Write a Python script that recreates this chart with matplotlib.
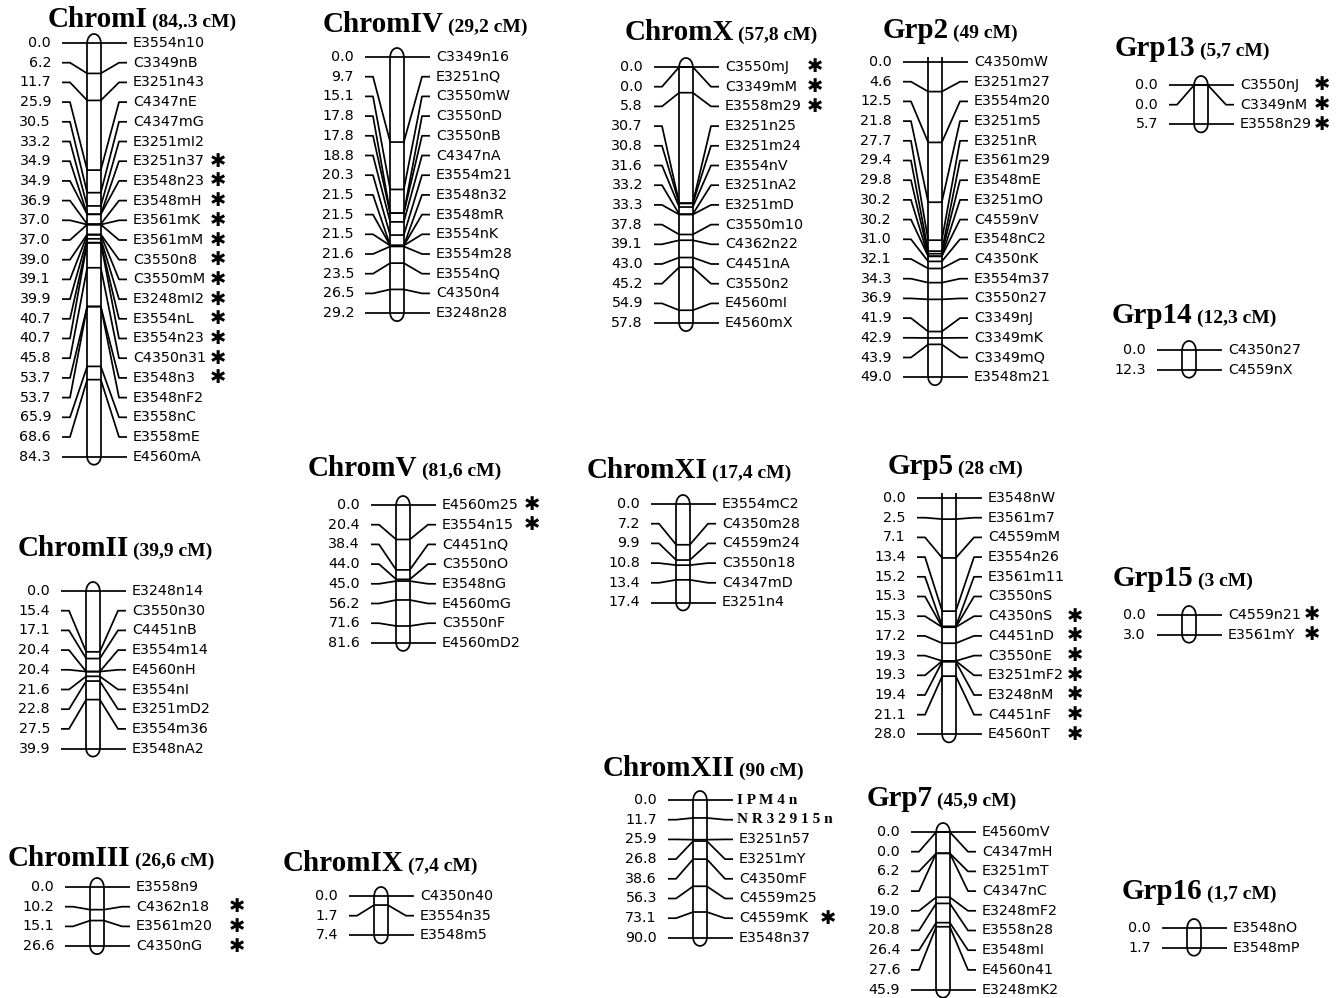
import numpy as np
import matplotlib.pyplot as plt

# ---------------- linkage group data (cM, marker) ----------------
chromI_cm = [0.0, 6.2, 11.7, 25.9, 30.5, 33.2, 34.9, 34.9, 36.9, 37.0, 37.0,
             39.0, 39.1, 39.9, 40.7, 40.7, 45.8, 53.7, 53.7, 65.9, 68.6, 84.3]
chromI_mk = ["E3554n10", "C3349nB", "E3251n43", "C4347nE", "C4347mG", "E3251mI2",
             "E3251n37", "E3548n23", "E3548mH", "E3561mK", "E3561mM", "C3550n8",
             "C3550mM", "E3248mI2", "E3554nL", "E3554n23", "C4350n31", "E3548n3",
             "E3548nF2", "E3558nC", "E3558mE", "E4560mA"]
chromI_star = ["E3251n37", "E3548n23", "E3548mH", "E3561mK", "E3561mM", "C3550n8",
               "C3550mM", "E3248mI2", "E3554nL", "E3554n23", "C4350n31", "E3548n3"]

chromIV_cm = [0.0, 9.7, 15.1, 17.8, 17.8, 18.8, 20.3, 21.5, 21.5, 21.5, 21.6, 23.5, 26.5, 29.2]
chromIV_mk = ["C3349n16", "E3251nQ", "C3550mW", "C3550nD", "C3550nB", "C4347nA", "E3554m21",
              "E3548n32", "E3548mR", "E3554nK", "E3554m28", "E3554nQ", "C4350n4", "E3248n28"]

chromX_cm = [0.0, 0.0, 5.8, 30.7, 30.8, 31.6, 33.2, 33.3, 37.8, 39.1, 43.0, 45.2, 54.9, 57.8]
chromX_mk = ["C3550mJ", "C3349mM", "E3558m29", "E3251n25", "E3251m24", "E3554nV", "E3251nA2",
             "E3251mD", "C3550m10", "C4362n22", "C4451nA", "C3550n2", "E4560mI", "E4560mX"]
chromX_star = ["C3550mJ", "C3349mM", "E3558m29"]

grp2_cm = [0.0, 4.6, 12.5, 21.8, 27.7, 29.4, 29.8, 30.2, 30.2, 31.0, 32.1, 34.3, 36.9,
           41.9, 42.9, 43.9, 49.0]
grp2_mk = ["C4350mW", "E3251m27", "E3554m20", "E3251m5", "E3251nR", "E3561m29", "E3548mE",
           "E3251mO", "C4559nV", "E3548nC2", "C4350nK", "E3554m37", "C3550n27", "C3349nJ",
           "C3349mK", "C3349mQ", "E3548m21"]

grp13_cm = [0.0, 0.0, 5.7]
grp13_mk = ["C3550nJ", "C3349nM", "E3558n29"]
grp13_star = ["C3550nJ", "C3349nM", "E3558n29"]

grp14_cm = [0.0, 12.3]
grp14_mk = ["C4350n27", "C4559nX"]

chromII_cm = [0.0, 15.4, 17.1, 20.4, 20.4, 21.6, 22.8, 27.5, 39.9]
chromII_mk = ["E3248n14", "C3550n30", "C4451nB", "E3554m14", "E4560nH", "E3554nI",
              "E3251mD2", "E3554m36", "E3548nA2"]

chromV_cm = [0.0, 20.4, 38.4, 44.0, 45.0, 56.2, 71.6, 81.6]
chromV_mk = ["E4560m25", "E3554n15", "C4451nQ", "C3550nO", "E3548nG", "E4560mG",
             "C3550nF", "E4560mD2"]
chromV_star = ["E4560m25", "E3554n15"]

chromXI_cm = [0.0, 7.2, 9.9, 10.8, 13.4, 17.4]
chromXI_mk = ["E3554mC2", "C4350m28", "C4559m24", "C3550n18", "C4347mD", "E3251n4"]

grp5_cm = [0.0, 2.5, 7.1, 13.4, 15.2, 15.3, 15.3, 17.2, 19.3, 19.3, 19.4, 21.1, 28.0]
grp5_mk = ["E3548nW", "E3561m7", "C4559mM", "E3554n26", "E3561m11", "C3550nS", "C4350nS",
           "C4451nD", "C3550nE", "E3251mF2", "E3248nM", "C4451nF", "E4560nT"]
grp5_star = ["C4350nS", "C4451nD", "C3550nE", "E3251mF2", "E3248nM", "C4451nF", "E4560nT"]

grp15_cm = [0.0, 3.0]
grp15_mk = ["C4559n21", "E3561mY"]
grp15_star = ["C4559n21", "E3561mY"]

chromIII_cm = [0.0, 10.2, 15.1, 26.6]
chromIII_mk = ["E3558n9", "C4362n18", "E3561m20", "C4350nG"]
chromIII_star = ["C4362n18", "E3561m20", "C4350nG"]

chromIX_cm = [0.0, 1.7, 7.4]
chromIX_mk = ["C4350n40", "E3554n35", "E3548m5"]

chromXII_cm = [0.0, 11.7, 25.9, 26.8, 38.6, 56.3, 73.1, 90.0]
chromXII_mk = ["IPM4n", "NR32915n", "E3251n57", "E3251mY", "C4350mF", "C4559m25",
               "C4559mK", "E3548n37"]
chromXII_star = ["C4559mK"]
chromXII_bold = ["IPM4n", "NR32915n"]

grp7_cm = [0.0, 0.0, 6.2, 6.2, 19.0, 20.8, 26.4, 27.6, 45.9]
grp7_mk = ["E4560mV", "C4347mH", "E3251mT", "C4347nC", "E3248mF2", "E3558n28", "E3548mI",
           "E4560n41", "E3248mK2"]

grp16_cm = [0.0, 1.7]
grp16_mk = ["E3548nO", "E3548mP"]

# name, length label, cm, markers, starred, bar x, first row y, title x, title baseline, star dx
groups = [
    ("ChromI", "(84,.3 cM)", chromI_cm, chromI_mk, chromI_star, 94, 43, 48, 27, 124, False),
    ("ChromIV", "(29,2 cM)", chromIV_cm, chromIV_mk, [], 397, 57, 323, 32, 0, False),
    ("ChromX", "(57,8 cM)", chromX_cm, chromX_mk, chromX_star, 686, 67, 625, 40, 129, False),
    ("Grp2", "(49 cM)", grp2_cm, grp2_mk, [], 935, 62, 883, 38, 0, True),
    ("Grp13", "(5,7 cM)", grp13_cm, grp13_mk, grp13_star, 1201, 85, 1115, 56, 121, False),
    ("Grp14", "(12,3 cM)", grp14_cm, grp14_mk, [], 1189, 350, 1112, 323, 0, False),
    ("ChromII", "(39,9 cM)", chromII_cm, chromII_mk, [], 93, 591, 18, 556, 0, False),
    ("ChromV", "(81,6 cM)", chromV_cm, chromV_mk, chromV_star, 403, 505, 308, 476, 129, False),
    ("ChromXI", "(17,4 cM)", chromXI_cm, chromXI_mk, [], 683, 504, 587, 478, 0, False),
    ("Grp5", "(28 cM)", grp5_cm, grp5_mk, grp5_star, 949, 498, 888, 474, 126, True),
    ("Grp15", "(3 cM)", grp15_cm, grp15_mk, grp15_star, 1189, 615, 1113, 586, 123, False),
    ("ChromIII", "(26,6 cM)", chromIII_cm, chromIII_mk, chromIII_star, 97, 887, 8, 866, 140, False),
    ("ChromIX", "(7,4 cM)", chromIX_cm, chromIX_mk, [], 381, 896, 283, 871, 0, False),
    ("ChromXII", "(90 cM)", chromXII_cm, chromXII_mk, chromXII_star, 700, 800, 603, 776, 128, False),
    ("Grp7", "(45,9 cM)", grp7_cm, grp7_mk, [], 943, 832, 867, 806, 0, False),
    ("Grp16", "(1,7 cM)", grp16_cm, grp16_mk, [], 1194, 928, 1122, 899, 0, False),
]

W, H = 1343, 998
SP = 19.7      # pitch between label rows, px
R = 6.8        # half bar width, px
LW = 1.25
SERIF = "Liberation Serif"

fig = plt.figure(figsize=(W / 100, H / 100), dpi=100)
fig.patch.set_facecolor("white")
renderer = fig.canvas.get_renderer()


def draw_group(name, sub, cm, mk, star, cx, top, tx, ty, sdx, open_top):
    n = len(cm)
    h = (n - 1) * SP
    length = cm[-1]
    half = 90
    ax = fig.add_axes([(cx - half) / W, 1 - (top + h) / H, 2 * half / W, h / H])
    ax.set_xlim(-half, half)
    ax.set_ylim(length, 0)
    ax.axis("off")
    k = length / h              # cM per pixel
    rows = np.linspace(0, length, n)
    kw = dict(color="black", lw=LW, clip_on=False, solid_capstyle="butt")

    # chromosome bar with rounded ends
    ext = 5 * k if open_top else 0
    ax.plot([-R, -R], [-ext, length], **kw)
    ax.plot([R, R], [-ext, length], **kw)
    t = np.linspace(0, np.pi, 40)
    if not open_top:
        ax.plot(R * np.cos(t), -9 * k * np.sin(t), **kw)
    ax.plot(R * np.cos(t), length + 8 * k * np.sin(t), **kw)

    for y, p, m in zip(rows, cm, mk):
        ax.plot([-32, -24, -R, R, 25, 33], [y, y, p, p, y, y], **kw)
        ax.text(-43, y, f"{p:.1f}", ha="right", va="center", fontsize=10.3,
                family="DejaVu Sans")
        if m in chromXII_bold:
            ax.text(37, y, " ".join(m), ha="left", va="center", fontsize=11,
                    family=SERIF, fontweight="bold")
        else:
            ax.text(39, y, m, ha="left", va="center", fontsize=10.3, family="DejaVu Sans")
        if m in star:
            ax.text(sdx, y, "\u2731", ha="center", va="center", fontsize=14,
                    family="DejaVu Sans")

    t1 = fig.text(tx / W, 1 - ty / H, name, family=SERIF, fontweight="bold",
                  fontsize=21, va="baseline", ha="left")
    bb = t1.get_window_extent(renderer=renderer)
    fig.text((bb.x1 + 4) / W, 1 - ty / H, sub, family=SERIF, fontweight="bold",
             fontsize=14, va="baseline", ha="left")


for g in groups:
    draw_group(*g)

fig.savefig("out.png", dpi=100, facecolor="white")
